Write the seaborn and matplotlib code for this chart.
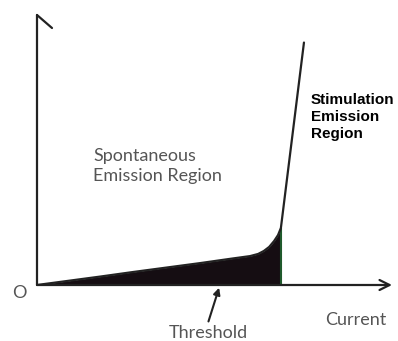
import numpy as np
import pandas as pd
import seaborn as sns
import matplotlib.pyplot as plt

# laser diode output vs drive current (arbitrary units)
current = [0, 17.7, 27, 45.9, 55.0, 60.0, 62.3, 63.9, 65.4, 66.8, 67.9, 68.7, 75.2]
power = [0, 3.1, 4.8, 8.1, 9.8, 10.7, 11.5, 12.6, 14.1, 16.3, 18.5, 21.1, 89.8]
threshold = 68.7

df = pd.DataFrame({'current': current, 'power': power})

sns.set_style('white')
plt.rcParams['font.family'] = ['Lato', 'DejaVu Sans']

fig = plt.figure(figsize=(3.98, 3.41), dpi=100)
ax = fig.add_axes([37 / 398, 56 / 341, 355 / 398, 270 / 341])

# shaded spontaneous region up to threshold
below = df[df['current'] <= threshold]
ax.fill_between(below['current'], 0, below['power'], color='#150d12', lw=0)
ax.plot([threshold, threshold], [0, np.interp(threshold, current, power)],
        color='#1f5a2c', lw=1.5)

sns.lineplot(data=df, x='current', y='power', ax=ax, color='#222222',
             lw=1.6, sort=False)

ax.set_xlim(0, 100)
ax.set_ylim(0, 100)
for s in ax.spines.values():
    s.set_visible(False)
ax.set_xticks([])
ax.set_yticks([])
ax.set_xlabel('')
ax.set_ylabel('')

# hand-drawn style axes
ax.annotate('', xy=(1.0, 0), xytext=(0, 0), xycoords='axes fraction',
            arrowprops=dict(arrowstyle='->', color='#222222', lw=1.6,
                            mutation_scale=18, shrinkA=0, shrinkB=0))
ax.plot([0, 0], [0, 1], transform=ax.transAxes, color='#222222', lw=1.6,
        clip_on=False)
ax.plot([0, 15 / 355], [1, 1 - 13 / 270], transform=ax.transAxes,
        color='#222222', lw=1.6, clip_on=False)

gray = '#555555'
ax.text(15.8, 44, 'Spontaneous\nEmission Region', fontsize=13, color=gray,
        ha='left', va='center', linespacing=1.3)
ax.text(77.2, 62.3, 'Stimulation\nEmission\nRegion', fontsize=11,
        fontweight='bold', family=['Liberation Sans', 'DejaVu Sans'],
        color='black', ha='left', va='center', linespacing=1.25)
ax.text(89.9, -13, 'Current', fontsize=13, color=gray, ha='center',
        va='center', clip_on=False)
ax.text(48.2, -17.8, 'Threshold', fontsize=13, color=gray, ha='center',
        va='center', clip_on=False)
ax.text(-5.1, -3, 'O', fontsize=13, color=gray, ha='center', va='center',
        clip_on=False)
ax.annotate('', xy=(51.3, -1.0), xytext=(48.3, -13.5),
            arrowprops=dict(arrowstyle='-|>', color='#222222', lw=1.5,
                            mutation_scale=10, shrinkA=0, shrinkB=0),
            annotation_clip=False)

fig.savefig('out.png', dpi=100)
